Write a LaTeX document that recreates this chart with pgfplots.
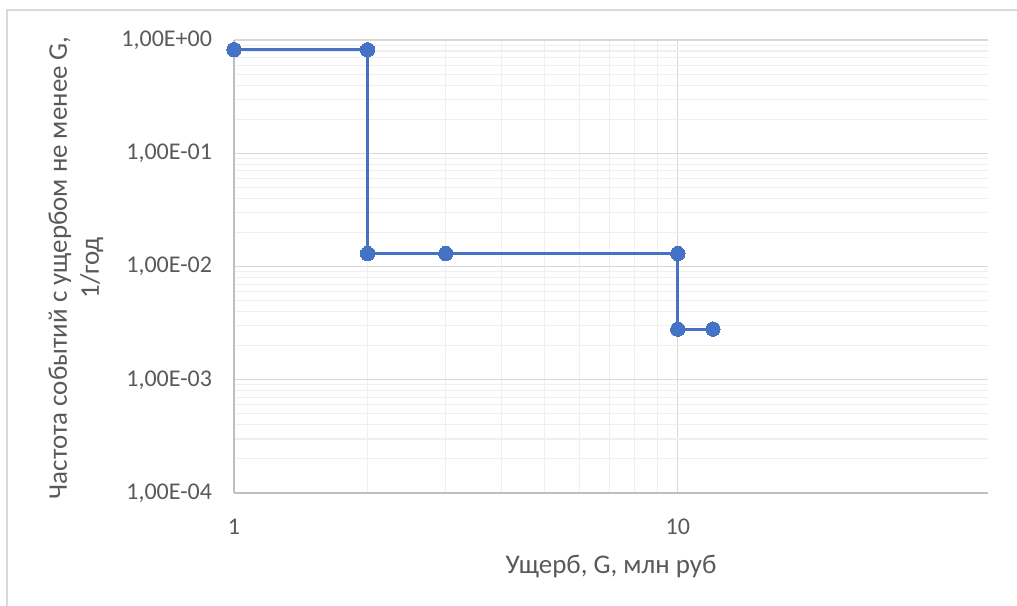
\documentclass[border=0pt]{standalone}
\usepackage{pgfplots}
\pgfplotsset{compat=1.18}
\usepackage{fontspec}
\setmainfont{Carlito}
\definecolor{linecol}{HTML}{4472C4}
\definecolor{txt}{HTML}{595959}
\definecolor{majgrid}{HTML}{D9D9D9}
\definecolor{mingrid}{HTML}{EFEFEF}
\definecolor{axcol}{HTML}{BFBFBF}
\begin{document}
\begin{tikzpicture}
\useasboundingbox (0,0) rectangle (762.75pt,454.5pt);
\draw[majgrid, line width=1.2pt] (5.25pt,0) -- (5.25pt,447pt) -- (762.75pt,447pt);
\begin{axis}[
  at={(175.5pt,84.75pt)}, anchor=south west,
  scale only axis, width=565.5pt, height=339.75pt,
  xmode=log, ymode=log,
  xmin=1, xmax=50, ymin=1e-4, ymax=1,
  xtick={1,10}, xticklabels={1,10},
  ytick={1e-4,1e-3,1e-2,1e-1,1},
  yticklabels={{1,00E-04},{1,00E-03},{1,00E-02},{1,00E-01},{1,00E+00}},
  major tick length=0pt, minor tick length=0pt,
  grid=both,
  major grid style={majgrid, line width=0.8pt},
  minor grid style={mingrid, line width=0.8pt},
  axis lines*=left,
  axis line style={axcol, line width=1.1pt, -},
  ticklabel style={font=\fontsize{18}{21}\selectfont, text=txt},
  xticklabel style={anchor=center, yshift=-25.5pt},
  yticklabel style={anchor=east, xshift=-13pt},
  xlabel={Ущерб, G, млн руб},
  ylabel={Частота событий с ущербом не менее G,\\1/год},
  label style={font=\fontsize{20.2}{24}\selectfont, text=txt},
  xlabel style={at={(axis description cs:0.5,0)}, anchor=center, yshift=-55.5pt},
  ylabel style={at={(axis description cs:0,0.5)}, anchor=center, yshift=118.5pt, xshift=-1pt, align=center},
]
\addplot[linecol, line width=2.25pt, mark=*, mark size=5.4pt, mark options={fill=linecol, draw=linecol, line width=0pt}]
  coordinates {(1,0.82) (2,0.82) (2,0.013) (3,0.013) (10,0.013) (10,0.0028) (12,0.0028)};
\end{axis}
\end{tikzpicture}
\end{document}
